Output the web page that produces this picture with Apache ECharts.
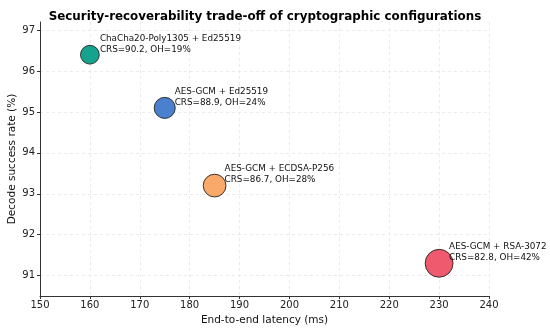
<!DOCTYPE html>
<html><head><meta charset="utf-8">
<script src="https://cdn.jsdelivr.net/npm/echarts@6/dist/echarts.min.js"></script>
<style>html,body{margin:0;padding:0;background:#fff}#c{width:550px;height:330px}</style>
</head><body><div id="c"></div>
<script>
const configs = ['ChaCha20-Poly1305 + Ed25519', 'AES-GCM + Ed25519', 'AES-GCM + ECDSA-P256', 'AES-GCM + RSA-3072'];
const latency = [160, 175, 185, 230];
const successRate = [96.4, 95.1, 93.2, 91.3];
const crs = [90.2, 88.9, 86.7, 82.8];
const overhead = [19, 24, 28, 42];
const colors = ['#16a38e', '#4b80cf', '#f9aa6b', '#ef5a6f'];
const xTicks = [150, 160, 170, 180, 190, 200, 210, 220, 230, 240];
const yTicks = [91, 92, 93, 94, 95, 96, 97];

const data = configs.map((n, i) => ({
  value: [latency[i], successRate[i], crs[i], overhead[i]],
  name: n,
  itemStyle: { color: colors[i] }
}));

const chart = echarts.init(document.getElementById('c'), null, { renderer: 'canvas' });
const font = 'DejaVu Sans';
chart.setOption({
  animation: false,
  textStyle: { fontFamily: font },
  title: {
    text: 'Security-recoverability trade-off of cryptographic configurations',
    left: 260, top: 6, textAlign: 'center',
    textStyle: { fontFamily: font, fontSize: 11.9, fontWeight: 'bold', color: '#000' }
  },
  grid: { left: 40, right: 61, top: 22, bottom: 34, containLabel: false, outerBoundsMode: 'none' },
  xAxis: {
    type: 'value', min: 150, max: 240, interval: 10,
    name: 'End-to-end latency (ms)', nameLocation: 'middle', nameGap: 19, nameMoveOverlap: false,
    nameTextStyle: { fontFamily: font, fontSize: 10.5, color: '#111' },
    axisLine: { onZero: false, lineStyle: { color: '#333', width: 1 } },
    axisTick: { show: true, length: 3, lineStyle: { color: '#333' } },
    axisLabel: { fontFamily: font, fontSize: 10, color: '#222', margin: 4,
      formatter: v => xTicks.includes(v) ? String(v) : '' },
    splitLine: { show: true, lineStyle: { color: '#e6e6e6', type: [3, 3], width: 0.8 } }
  },
  yAxis: {
    type: 'value', min: 90.5, max: 97.2,
    name: 'Decode success rate (%)', nameLocation: 'middle', nameGap: 22, nameRotate: 90, nameMoveOverlap: false,
    nameTextStyle: { fontFamily: font, fontSize: 10.5, color: '#111' },
    axisLine: { show: true, onZero: false, lineStyle: { color: '#333', width: 1 } },
    axisTick: { show: true, length: 3, lineStyle: { color: '#333' }, customValues: yTicks },
    axisLabel: { fontFamily: font, fontSize: 10, color: '#222', margin: 5, customValues: yTicks },
    splitLine: { show: true, lineStyle: { color: '#e6e6e6', type: [3, 3], width: 0.8 } }
  },
  series: [{
    type: 'scatter',
    data: data,
    symbolSize: v => Math.sqrt(v[3]) * 4.3,
    itemStyle: { borderColor: '#222', borderWidth: 0.9, opacity: 1 },
    label: {
      show: true, position: 'inside', align: 'left', verticalAlign: 'middle',
      offset: [10, -11],
      fontFamily: font, fontSize: 8.8, lineHeight: 11, color: '#111',
      formatter: p => p.name + '\nCRS=' + p.value[2].toFixed(1) + ', OH=' + p.value[3] + '%'
    }
  }]
});
</script></body></html>
